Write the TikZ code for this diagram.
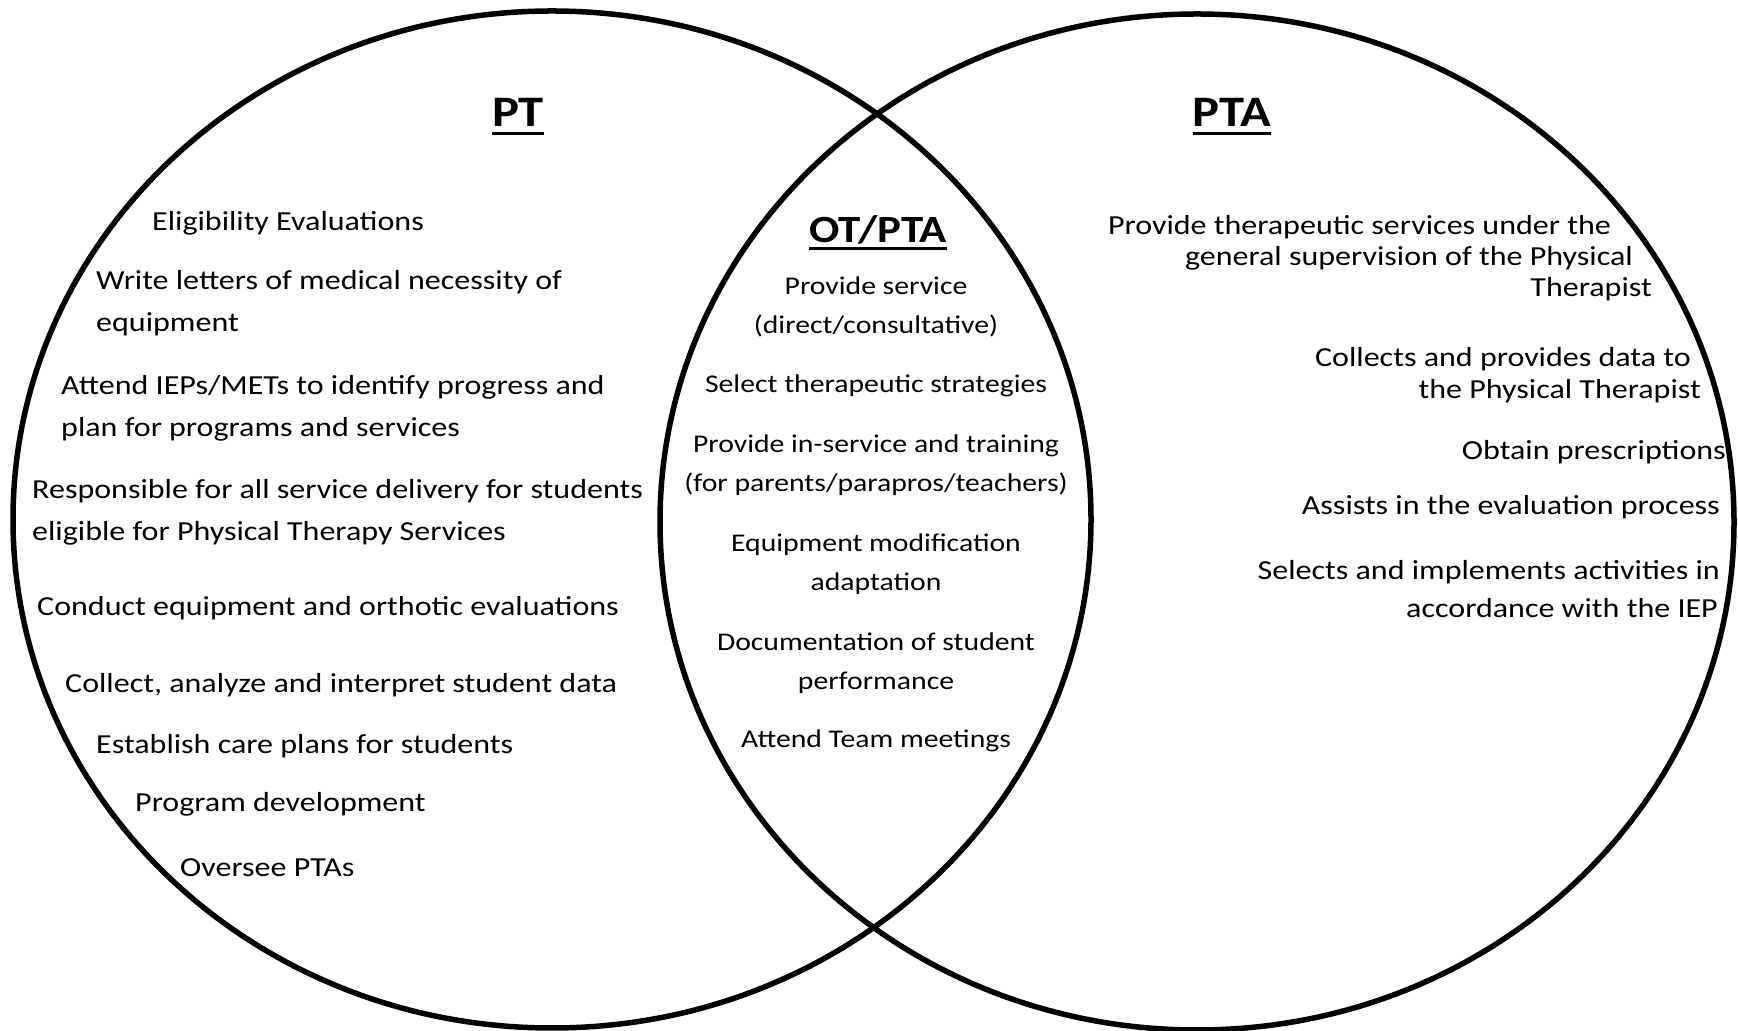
\documentclass[tikz,border=0pt]{standalone}
\usepackage{fontspec}
\setmainfont{Carlito}[FakeStretch=1.165]
\newcommand{\heading}[2]{\sbox0{#1}\rlap{\usebox0}\rule[#2]{\wd0}{3pt}}
\newcommand{\pad}[1]{\hbox to #1{}}
\begin{document}
\begin{tikzpicture}[x=1pt,y=1pt,
  venn/.style={line width=5.5pt},
  title/.style={font=\fontsize{43.5}{48}\selectfont\bfseries,inner sep=0pt,anchor=base},
  ptitem/.style={font=\fontsize{27.5}{42}\selectfont,align=left,inner sep=0pt,anchor=base west},
  shareditem/.style={font=\fontsize{25.5}{39}\selectfont,align=center,inner sep=0pt,anchor=base},
  ptaitem/.style={font=\fontsize{27.5}{32}\selectfont,align=right,inner sep=0pt,anchor=base east}]
 \useasboundingbox (0,0) rectangle (1738,1031);
 % the two rings
 \draw[venn] (552,511.5) ellipse [x radius=539,y radius=508.5];
 \draw[venn] (1197,509) ellipse [x radius=537,y radius=508];
 % headings
 \node[title] (pt) at (518,904) {\heading{PT}{-8pt}};
 \node[title] (pta) at (1232,904) {\heading{PTA}{-8pt}};
 \node[title,font=\fontsize{38.5}{42}\selectfont\bfseries] (both) at (878,788) {\heading{OT/PTA}{-7pt}};
 % PT only (base = last line)
 \node[ptitem] (elig) at (152,800) {Eligibility Evaluations};
 \node[ptitem] (letters) at (96,699) {Write letters of medical necessity of\\equipment};
 \node[ptitem] (ieps) at (61,594) {Attend IEPs/METs to identify progress and\\plan for programs and services};
 \node[ptitem] (delivery) at (32,490) {Responsible for all service delivery for students\\eligible for Physical Therapy Services};
 \node[ptitem] (orthotic) at (37,415) {Conduct equipment and orthotic evaluations};
 \node[ptitem] (data) at (65,338) {Collect, analyze and interpret student data};
 \node[ptitem] (care) at (96,277) {Establish care plans for students};
 \node[ptitem] (develop) at (135,219) {Program development};
 \node[ptitem] (oversee) at (180,154) {Oversee PTAs};
 % shared
 \node[shareditem] (service) at (876,697) {Provide service\\(direct/consultative)};
 \node[shareditem] (strategy) at (876,638) {Select therapeutic strategies};
 \node[shareditem] (training) at (876,539) {Provide in-service and training\\(for parents/parapros/teachers)};
 \node[shareditem] (modify) at (876,440) {Equipment modification\\adaptation};
 \node[shareditem] (docs) at (876,341) {Documentation of student\\performance};
 \node[shareditem] (team) at (876,283) {Attend Team meetings};
 % PTA only
 \node[ptaitem,font=\fontsize{27.5}{31}\selectfont] (supervise) at (1652,734) {Provide therapeutic services under the\pad{41pt}\\general supervision of the Physical\pad{19pt}\\Therapist};
 \node[ptaitem] (collects) at (1701,632) {Collects and provides data to\pad{10pt}\\the Physical Therapist};
 \node[ptaitem] (rx) at (1726,571) {Obtain prescriptions};
 \node[ptaitem] (assist) at (1720,516) {Assists in the evaluation process};
 \node[ptaitem,font=\fontsize{27.5}{38}\selectfont] (selects) at (1720,413) {Selects and implements activities in\\accordance with the IEP\pad{2pt}};
\end{tikzpicture}
\end{document}
